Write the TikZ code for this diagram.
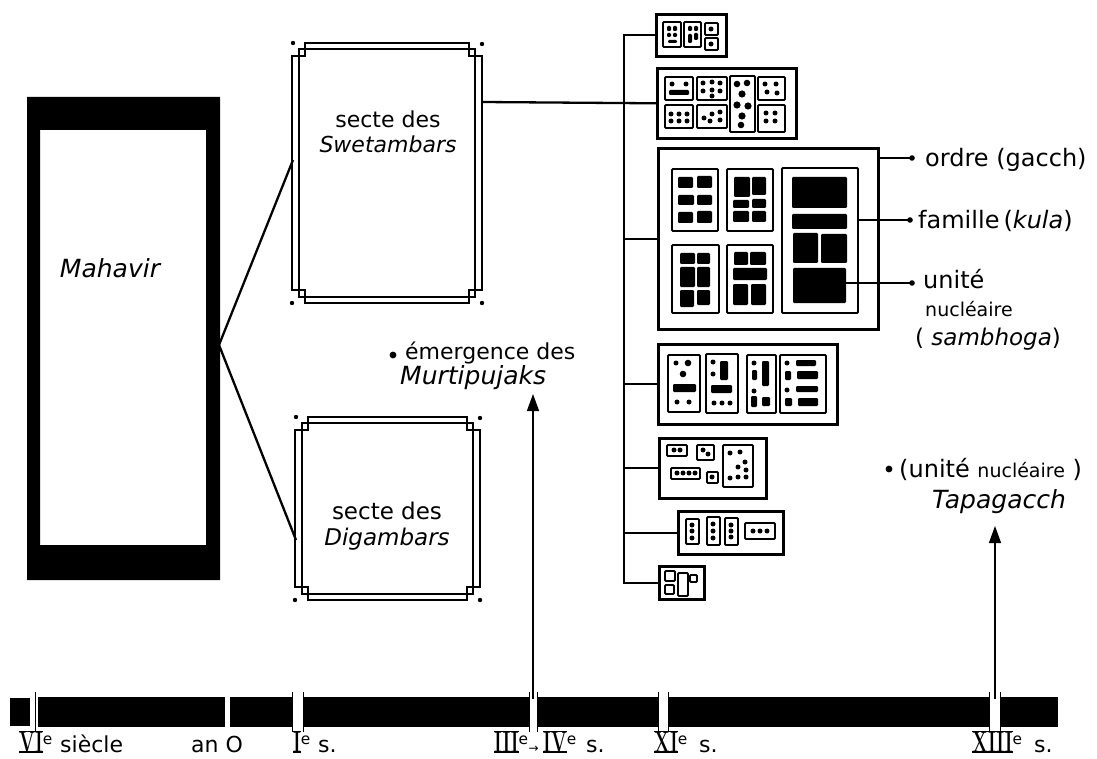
\documentclass[tikz,border=0pt]{standalone}
\usepackage{fontspec}
\newfontfamily\hand{DejaVu Sans}
\usetikzlibrary{arrows.meta}
\newcommand\hsz[1]{\fontsize{#1}{#1}\selectfont}
\newcommand\romnum[1]{\begingroup\fontsize{30}{30}\selectfont
  \setbox0\hbox{\scalebox{0.62}[1]{\rmfamily\bfseries #1}}%
  \rlap{\rule[-0.6pt]{\wd0}{1.6pt}}\rlap{\rule[\dimexpr\ht0-1pt\relax]{\wd0}{1.6pt}}\box0\endgroup}
\newcommand\jdot[2]{\fill (#1,#2) circle (2.5);}
\newcommand\sectframe[4]{%
  \draw[line width=1.7pt] (#1+13,#2) -- (#3-13,#2) -- (#3-13,#2+13) -- (#3,#2+13) -- (#3,#4-13) -- (#3-13,#4-13) -- (#3-13,#4) -- (#1+13,#4) -- (#1+13,#4-13) -- (#1,#4-13) -- (#1,#2+13) -- (#1+13,#2+13) -- cycle;
  \draw[line width=1.7pt] (#1+7,#2+6) rectangle (#3-7,#4-6);
  \fill (#1+1,#2) circle (2.2); \fill (#3,#2+1) circle (2.2);
  \fill (#1,#4) circle (2.2); \fill (#3,#4) circle (2.2);}
\begin{document}
\begin{tikzpicture}[x=1pt,y=-1pt,
  grp/.style={draw, line width=2.6pt, inner sep=0pt, anchor=north west},
  ib/.style={draw, line width=1.9pt, rounded corners=1pt},
  blk/.style={fill=black, rounded corners=1.2pt},
  conn/.style={line width=2.3pt},
  lead/.style={line width=1.5pt},
  tick/.style={line width=1pt},
  txt/.style={font=\hand\hsz{22}, inner sep=0pt, anchor=west},
  tl/.style={font=\hand\hsz{22}, inner sep=0pt, anchor=base west},
  rn/.style={font=\rmfamily\hsz{22}, inner sep=0pt, anchor=base west},
  arr/.style={line width=1.3pt, -{Triangle[length=17pt,width=12pt]}}]
\useasboundingbox (0,0) rectangle (1097,759);

% ---- Mahavir
\fill[even odd rule] (27,97) rectangle (220,580) (40,130) rectangle (206,545);
\node[font=\hand\itshape\hsz{25}, inner sep=0pt] (mahavir) at (110,268) {Mahavir};
\coordinate (mahE) at (219,345);

% ---- sect frames
\sectframe{292}{43}{482}{303}
\sectframe{295}{417}{480}{600}
\node[font=\hand\hsz{22}, align=center, inner sep=0pt] (swet) at (388,132) {secte des\\[3pt]{\itshape Swetambars}};
\node[font=\hand\hsz{23}, align=center, inner sep=0pt] (dig) at (387,526) {secte des\\[3pt]{\itshape Digambars}};
\coordinate (swetW) at (293,160);
\coordinate (swetE) at (482,102);
\coordinate (digW) at (296,540);
\draw[conn] (mahE) -- (swetW);
\draw[conn] (mahE) -- (digW);

% ---- lineage groups
\node[grp, minimum width=70pt, minimum height=42pt] (g1) at (655,13) {};
\node[grp, minimum width=139pt, minimum height=70pt] (g2) at (656,67) {};
\node[grp, minimum width=220pt, minimum height=181pt] (g3) at (657,147) {};
\node[grp, minimum width=179pt, minimum height=80pt] (g4) at (657,343) {};
\node[grp, minimum width=107pt, minimum height=60pt] (g5) at (658,437) {};
\node[grp, minimum width=105pt, minimum height=43pt] (g6) at (677,510) {};
\node[grp, minimum width=45pt, minimum height=33pt] (g7) at (658,565) {};

\draw[conn] (swetE) -- (g2.west);
\draw[conn] (g1.west) -- ++(-31,0) coordinate (trunk) |- (g7.west);
\draw[conn] (g3.west) -- (g3.west -| trunk);
\draw[conn] (g4.west) -- (g4.west -| trunk);
\draw[conn] (g5.west) -- (g5.west -| trunk);
\draw[conn] (g6.west) -- (g6.west -| trunk);

% g1 contents
\draw[ib] (663,22) rectangle (681,47);
\fill[blk] (667,26) rectangle (671,31); \fill[blk] (673,26) rectangle (677,31);
\fill[blk] (667,33) rectangle (671,37); \fill[blk] (673,33) rectangle (677,37);
\fill[blk] (668,40) rectangle (677,43);
\draw[ib] (684,22) rectangle (701,47);
\fill[blk] (688,26) rectangle (692,31); \fill[blk] (694,26) rectangle (698,31);
\fill[blk] (688,34) rectangle (692,43); \fill[blk] (694,33) rectangle (698,40);
\draw[ib] (705,23) rectangle (718,35); \jdot{711}{29}
\draw[ib] (705,38) rectangle (718,50); \jdot{711}{44}

% g2 contents
\draw[ib] (665,77) rectangle (693,100);
\jdot{672}{84} \jdot{686}{84} \fill[blk] (669,90) rectangle (689,95);
\draw[ib] (697,77) rectangle (727,100);
\jdot{703}{83} \jdot{712}{82} \jdot{720}{83} \jdot{703}{91} \jdot{712}{90} \jdot{720}{91} \jdot{712}{96}
\draw[ib] (730,76) rectangle (755,132);
\fill (737,84) circle (3.3); \fill (747,83) circle (3.3); \fill (742,94) circle (3.6);
\fill (737,105) circle (3.6); \fill (748,106) circle (3.6); \fill (742,116) circle (3.6); \fill (741,125) circle (3.3);
\draw[ib] (758,77) rectangle (785,100);
\jdot{765}{84} \jdot{776}{84} \jdot{767}{92} \jdot{777}{93}
\draw[ib] (665,105) rectangle (693,128);
\jdot{671}{114} \jdot{679}{114} \jdot{687}{114} \jdot{671}{121} \jdot{679}{121} \jdot{687}{121}
\draw[ib] (697,105) rectangle (727,128);
\jdot{704}{118} \jdot{712}{114} \jdot{720}{112} \jdot{710}{121} \jdot{720}{120}
\draw[ib] (758,105) rectangle (785,132);
\jdot{766}{113} \jdot{775}{113} \jdot{766}{121} \jdot{775}{121}

% g3 contents
\draw[ib] (672,169) rectangle (718,231);
\fill[blk] (678,177) rectangle (693,188); \fill[blk] (697,176) rectangle (712,188);
\fill[blk] (678,195) rectangle (694,205); \fill[blk] (697,195) rectangle (712,205);
\fill[blk] (678,212) rectangle (693,223); \fill[blk] (697,211) rectangle (712,223);
\draw[ib] (727,169) rectangle (773,231);
\fill[blk] (734,177) rectangle (750,197); \fill[blk] (752,177) rectangle (766,195);
\fill[blk] (733,200) rectangle (749,208); \fill[blk] (752,199) rectangle (766,208);
\fill[blk] (733,211) rectangle (749,222); \fill[blk] (752,211) rectangle (766,222);
\draw[ib] (672,245) rectangle (719,313);
\fill[blk] (680,253) rectangle (695,264); \fill[blk] (697,253) rectangle (710,264);
\fill[blk] (680,267) rectangle (695,287); \fill[blk] (697,267) rectangle (710,287);
\fill[blk] (680,290) rectangle (694,307); \fill[blk] (697,290) rectangle (710,305);
\draw[ib] (727,245) rectangle (773,313);
\fill[blk] (734,252) rectangle (748,265); \fill[blk] (750,252) rectangle (766,265);
\fill[blk] (733,268) rectangle (767,280);
\fill[blk] (733,284) rectangle (748,305); \fill[blk] (751,284) rectangle (766,305);
\draw[ib] (782,168) rectangle (858,313);
\fill[blk] (792,177) rectangle (847,208);
\fill[blk] (792,214) rectangle (847,229);
\fill[blk] (793,233) rectangle (818,263); \fill[blk] (821,234) rectangle (847,263);
\fill[blk] (793,268) rectangle (846,303);

% right-side labels
\coordinate (ordreA) at (877,158);
\coordinate (famA) at (858,220);
\coordinate (uniA) at (846,283);
\draw[lead] (ordreA) -- ++(35,0) coordinate (ordreD); \fill (ordreD) circle (2.8);
\draw[lead] (famA) -- ++(52,0) coordinate (famD); \fill (famD) circle (2.8);
\draw[lead] (uniA) -- ++(66,0) coordinate (uniD); \fill (uniD) circle (2.8);
\node[txt, font=\hand\hsz{24}] (ordre) at (925,160) {ordre (gacch)};
\node[txt, font=\hand\hsz{24}] (famille) at (918,221) {famille\,({\itshape kula})};
\node[txt, font=\hand\hsz{24}] (unite) at (923,279) {unité};
\node[txt, font=\hand\hsz{19}] (nucl) at (925,309) {nucléaire};
\node[txt, font=\hand\hsz{23}] (samb) at (915,339) {( {\itshape sambhoga})};

% g4 contents
\draw[ib] (668,355) rectangle (700,412);
\jdot{676}{363} \fill (688,363) circle (3.3); \fill (683,374) circle (3.3);
\fill[blk] (673,384) rectangle (696,392); \jdot{677}{402} \jdot{689}{402}
\draw[ib] (706,354) rectangle (738,413);
\jdot{713}{362} \fill[blk] (720,361) rectangle (728,380); \jdot{713}{374}
\fill[blk] (711,385) rectangle (732,393); \jdot{714}{403} \jdot{722}{403} \jdot{730}{403}
\draw[ib] (747,355) rectangle (776,413);
\jdot{754}{363} \fill[blk] (762,361) rectangle (769,386); \fill[blk] (752,370) rectangle (757,380);
\jdot{754}{391} \fill[blk] (751,396) rectangle (757,407); \fill[blk] (762,397) rectangle (770,406);
\draw[ib] (780,355) rectangle (826,413);
\jdot{787}{363} \fill[blk] (796,360) rectangle (816,366); \fill[blk] (785,371) rectangle (791,380);
\fill[blk] (797,371) rectangle (818,379); \jdot{787}{390} \fill[blk] (796,386) rectangle (818,392);
\fill[blk] (785,398) rectangle (792,406); \fill[blk] (798,398) rectangle (818,406);

% g5 contents
\draw[ib] (667,445) rectangle (687,456); \jdot{674}{450} \jdot{680}{450}
\draw[ib] (697,445) rectangle (714,460); \jdot{703}{450} \jdot{708}{454}
\draw[ib] (723,445) rectangle (753,487);
\jdot{730}{453} \jdot{740}{452} \jdot{745}{462} \jdot{738}{467} \jdot{746}{470} \jdot{730}{478} \jdot{738}{477} \jdot{746}{477}
\draw[ib] (671,468) rectangle (700,479); \jdot{677}{473} \jdot{683}{473} \jdot{689}{473} \jdot{695}{473}
\draw[ib] (707,472) rectangle (718,483); \jdot{712}{477}

% g6 contents
\draw[ib] (686,519) rectangle (699,544); \jdot{692}{525} \jdot{692}{531} \jdot{692}{538}
\draw[ib] (707,517) rectangle (720,545); \jdot{713}{524} \jdot{713}{531} \jdot{713}{538}
\draw[ib] (725,518) rectangle (738,545); \jdot{731}{525} \jdot{731}{531} \jdot{731}{537}
\draw[ib] (745,523) rectangle (775,539); \jdot{753}{531} \jdot{760}{531} \jdot{767}{531}

% g7 contents
\draw[ib] (665,571) rectangle (675,581);
\draw[ib] (665,585) rectangle (674,594);
\draw[ib] (678,573) rectangle (688,596);
\draw[ib] (690,575) rectangle (697,582);

% ---- timeline
\fill (10,698) rectangle (30,726);
\fill (38,697) rectangle (225,727);
\fill (230,697) rectangle (292,727);
\fill (303,697) rectangle (529,727);
\fill (537,697) rectangle (658,727);
\fill (668,697) rectangle (989,727);
\fill (1000,697) rectangle (1058,727);
\foreach \x in {35,292,303,529,537,658,668,989,1000} \draw[tick] (\x,692) -- (\x,732);

% ---- arrows and event labels
\coordinate (murtB) at (533,699);
\coordinate (murtT) at (533,394);
\draw[arr] (murtB) -- (murtT);
\fill (393,355) circle (3.4);
\node[txt, font=\hand\hsz{22}] (emerg) at (405,353) {émergence des};
\node[txt, font=\hand\itshape\hsz{25}] (murti) at (400,378) {Murtipujaks};

\coordinate (tapaB) at (995,699);
\coordinate (tapaT) at (995,526);
\draw[arr] (tapaB) -- (tapaT);
\fill (889,469) circle (3.4);
\node[txt, font=\hand\hsz{24}] (unuc) at (899,469) {(unité {\hsz{19}nucléaire} )};
\node[txt, font=\hand\itshape\hsz{25}] (tapa) at (932,502) {Tapagacch};

% ---- timeline labels
\node[rn] (lVI) at (19,752) {\romnum{VI}\textsuperscript{\hand e}};
\node[tl] (siecle) at (60,752) {siècle};
\node[tl] (an0) at (191,752) {an O};
\node[rn] (lI) at (293,752) {\romnum{I}\textsuperscript{\hand e}};
\node[tl] (s1) at (318,752) {s.};
\node[rn] (lIII) at (494,752) {\romnum{III}\textsuperscript{\hand e}{\hand\hsz{12}→}};
\node[rn] (lIV) at (543,752) {\romnum{IV}\textsuperscript{\hand e}};
\node[tl] (s4) at (586,752) {s.};
\node[rn] (lXI) at (654,752) {\romnum{XI}\textsuperscript{\hand e}};
\node[tl] (s11) at (699,752) {s.};
\node[rn] (lXIII) at (972,752) {\romnum{XIII}\textsuperscript{\hand e}};
\node[tl] (s13) at (1034,752) {s.};
\end{tikzpicture}
\end{document}
